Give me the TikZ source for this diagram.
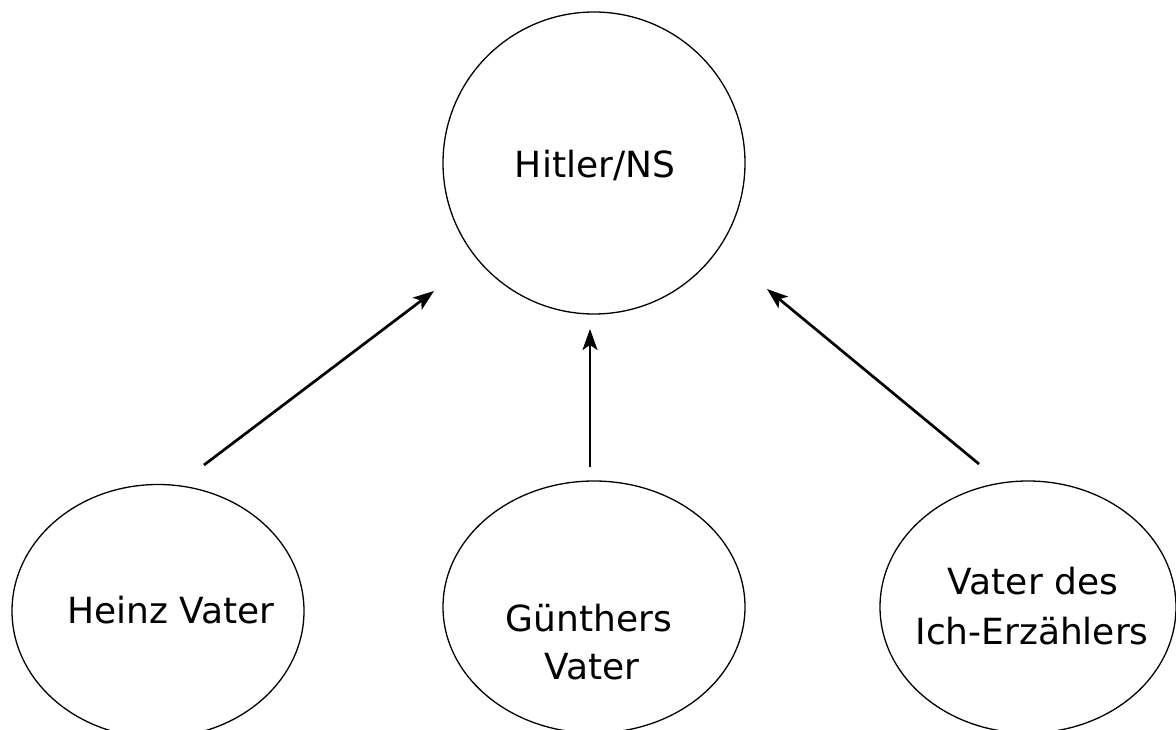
\documentclass[tikz,border=0pt]{standalone}
\usepackage{fontspec}
\setmainfont{DejaVu Sans}
\usetikzlibrary{shapes.geometric,arrows.meta}
\begin{document}
\begin{tikzpicture}[x=1pt,y=-1pt,
  shapeline/.style={draw=black,line width=1.3pt,inner sep=0pt},
  circ/.style={shapeline,circle,minimum size=302pt},
  ell/.style={shapeline,ellipse},
  lbl/.style={inner sep=0pt,anchor=base,font=\fontsize{36}{50}\selectfont},
  arr/.style={line width=2.7pt,-{Stealth[length=21pt,width=15pt,inset=5pt]}}]
\useasboundingbox (0,0) rectangle (1176,730);
% shapes
\node[circ] (hit) at (594,163) {};
\node[ell,minimum width=292pt,minimum height=253pt] (heinz) at (158,611) {};
\node[ell,minimum width=302pt,minimum height=252pt] (guen) at (594,607) {};
\node[ell,minimum width=296pt,minimum height=252pt] (ich) at (1028,607) {};
% texts
\node[lbl] (thit) at (595,178) {Hitler/NS};
\node[lbl] (theinz) at (171,623) {Heinz Vater};
\node[lbl] (tguen1) at (589,631) {Günthers};
\node[lbl] (tguen2) at (592,679) {Vater};
\node[lbl] (tich1) at (1033,594) {Vater des};
\node[lbl] (tich2) at (1032,644) {Ich-Erzählers};
% connector ends
\coordinate (s1) at (204,465);
\coordinate (e1) at (434,291);
\coordinate (s2) at (590,467);
\coordinate (e2) at (590,329);
\coordinate (s3) at (979,464);
\coordinate (e3) at (767,289);
\draw[arr] (s1) -- (e1);
\draw[arr] (s2) -- (e2);
\draw[arr] (s3) -- (e3);
\end{tikzpicture}
\end{document}
